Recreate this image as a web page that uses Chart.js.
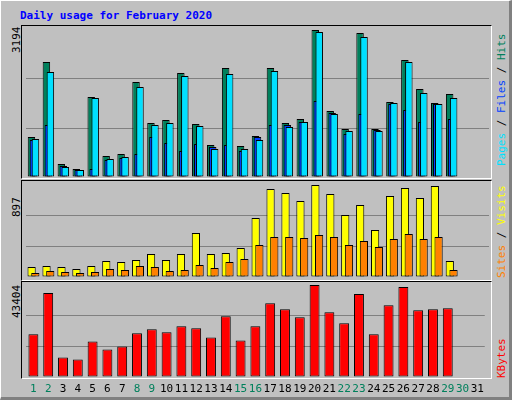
<!DOCTYPE html>
<html><head><meta charset="utf-8">
<script src="https://cdn.jsdelivr.net/npm/chart.js@4"></script>
<style>
body{margin:0;background:#c0c0c0;}
#wrap{position:absolute;left:0;top:0;width:508px;height:396px;background:#c0c0c0;border-style:solid;border-width:1px 3px 3px 1px;border-color:#fff #808080 #808080 #fff;outline:1px solid #000;}
.panel{position:absolute;left:20px;width:469px;border-style:solid;border-width:1px;border-color:#000 #fff #fff #000;}
canvas{position:absolute;}
.t{position:absolute;font-family:"DejaVu Sans Mono",monospace;font-size:11px;white-space:nowrap;}
.rot{transform-origin:0 0;transform:rotate(-90deg);}
</style></head><body>
<div id="wrap">
<div class="t" style="left:19px;top:8px;color:#0000ff;font-weight:bold;font-size:11px;">Daily usage for February 2020</div>
<div class="panel" style="top:24px;height:152px;"></div>
<div class="panel" style="top:179px;height:99px;"></div>
<div class="panel" style="top:280px;height:96px;"></div>
<div class="t rot" style="left:9px;top:52px;">3194</div>
<div class="t rot" style="left:9px;top:216px;">897</div>
<div class="t rot" style="left:9px;top:317px;">43404</div>
<div class="t rot" style="left:494px;top:165px;"><span style="color:#00e0ff">Pages</span><span style="color:#000"> / </span><span style="color:#0040ff">Files</span><span style="color:#000"> / </span><span style="color:#00805c">Hits</span></div>
<div class="t rot" style="left:494px;top:277px;"><span style="color:#ff8000">Sites</span><span style="color:#000"> / </span><span style="color:#ffff00">Visits</span></div>
<div class="t rot" style="left:494px;top:377px;color:#ff0000">KBytes</div>
<canvas id="c1" style="left:21px;top:29px;width:468px;height:147px"></canvas>
<canvas id="c2" style="left:21px;top:184px;width:468px;height:92px"></canvas>
<canvas id="c3" style="left:21px;top:284px;width:468px;height:112px"></canvas>
</div>
<script>
const days=['1','2','3','4','5','6','7','8','9','10','11','12','13','14','15','16','17','18','19','20','21','22','23','24','25','26','27','28','29','30','31'];
const weekendDays=[1,2,8,9,15,16,22,23,29,30];
const hits=[869,2499,282,174,1738,456,500,2064,1173,1239,2260,1152,695,2368,674,891,2368,1173,1260,3194,1434,1043,3129,1043,1630,2542,1912,1608,1803,0,0];
const files=[826,2281,217,152,1717,391,435,1956,1130,1173,2195,1108,608,2238,608,804,2303,1086,1195,3151,1369,1000,3042,1000,1608,2499,1825,1586,1717,0,0];
const pages=[804,1130,239,152,174,369,413,500,869,739,565,717,652,695,565,869,1130,1130,1195,1651,1391,934,1369,1021,1586,1456,1195,1586,1260,0,0];
const visits=[98,107,98,78,107,156,146,166,224,166,224,429,224,234,283,575,858,819,741,897,809,604,702,458,790,868,770,887,156,0,0];
const sites=[39,59,49,39,49,78,68,107,98,59,68,117,88,146,176,312,390,390,380,410,390,312,351,293,371,419,371,390,68,0,0];
const kbytes=[20117,39600,9187,8237,16790,12989,14414,20592,22493,21068,23918,22968,18691,28671,17266,23918,34849,31997,28196,43404,30572,25345,39126,20117,33899,42454,31522,31997,32473,0,0];

Chart.defaults.animation=false;
Chart.defaults.font.family='"DejaVu Sans Mono", monospace';
// draw datasets in index order so later ones sit in front
const frontLast={id:'frontLast',beforeDatasetsDraw(chart){
  chart.data.datasets.forEach((d,i)=>{const m=chart.getDatasetMeta(i);if(!m.hidden)m.controller.draw();});
  return false;}};
function ds(data,color){return {data,backgroundColor:color,borderColor:'#000',borderWidth:1,borderSkipped:false};}
function yScale(max){return {min:0,max:max,border:{display:false},ticks:{display:false,stepSize:max/3},
  grid:{drawTicks:false,color:c=>(c.index===1||c.index===2)?'#808080':'rgba(0,0,0,0)',lineWidth:1}};}
function mk(id,datasets,max,cat,bar,showX){
  return new Chart(document.getElementById(id),{type:'bar',data:{labels:days,datasets},plugins:[frontLast],
    options:{responsive:false,maintainAspectRatio:false,devicePixelRatio:1,
      layout:{padding:{left:4,right:1,top:0,bottom:0}},
      plugins:{legend:{display:false},tooltip:{enabled:false}},
      datasets:{bar:{categoryPercentage:cat,barPercentage:bar}},
      scales:{x:showX?{border:{display:false},grid:{display:false,drawTicks:false},
        ticks:{padding:6,autoSkip:false,maxRotation:0,font:{size:11},color:c=>weekendDays.includes(c.index+1)?'#00805c':'#000'},
        afterFit:s=>{s.height=20;}}:{display:false},y:yScale(max)}}});
}
mk('c1',[ds(hits,'#00805c'),ds(pages,'#0040ff'),ds(files,'#00e0ff')],3194,0.4,3.75,false);
mk('c2',[ds(visits,'#ffff00'),ds(sites,'#ff8000')],897,0.5,2.2,false);
mk('c3',[ds(kbytes,'#ff0000')],43404,0.67,1,true);
</script>
</body></html>
